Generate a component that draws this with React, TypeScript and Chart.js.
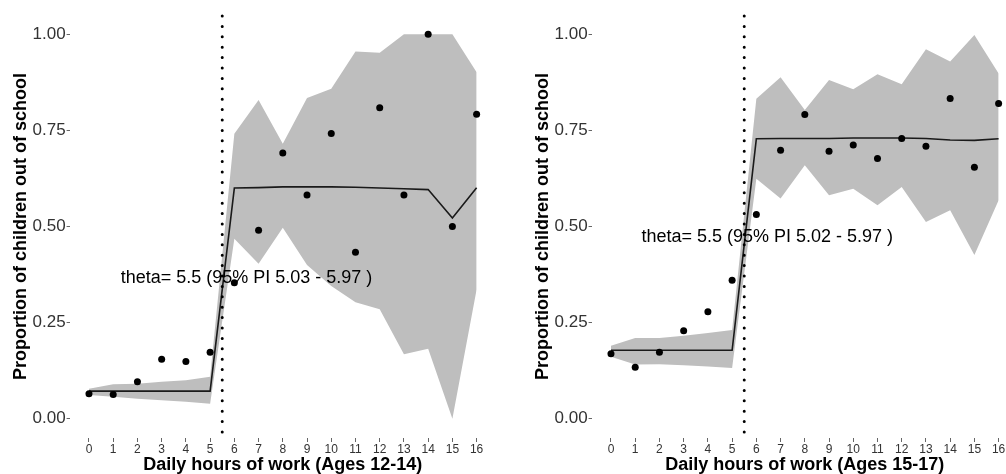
import React, { useEffect, useRef } from "react";
import { Chart, registerables } from "chart.js";

Chart.register(...registerables);

// ---------- data ----------
const hours = [0, 1, 2, 3, 4, 5, 6, 7, 8, 9, 10, 11, 12, 13, 14, 15, 16];
const xTicks = [0, 1, 2, 3, 4, 5, 6, 7, 8, 9, 10, 11, 12, 13, 14, 15, 16];
const yTicks = [0, 0.25, 0.5, 0.75, 1];

// Ages 12-14
const obsA = [0.065, 0.063, 0.096, 0.155, 0.149, 0.173, 0.354, 0.49, 0.691, 0.582, 0.742, 0.433, 0.809, 0.582, 1.0, 0.5, 0.792];
const fitA = [0.072, 0.072, 0.072, 0.072, 0.072, 0.072, 0.6, 0.601, 0.603, 0.603, 0.603, 0.602, 0.6, 0.598, 0.596, 0.522, 0.601];
const upperA = [0.078, 0.09, 0.091, 0.096, 0.1, 0.109, 0.741, 0.829, 0.715, 0.834, 0.858, 0.955, 0.952, 1.0, 1.0, 1.0, 0.901];
const lowerA = [0.062, 0.057, 0.052, 0.048, 0.044, 0.039, 0.468, 0.403, 0.497, 0.4, 0.345, 0.303, 0.285, 0.168, 0.182, 0.0, 0.336];
const thetaA = 5.5;
const labelA = "theta= 5.5 (95% PI 5.03 - 5.97 )";
const labelPosA = [6.5, 0.365];
const xTitleA = "Daily hours of work (Ages 12-14)";

// Ages 15-17
const obsB = [0.169, 0.134, 0.173, 0.229, 0.278, 0.36, 0.531, 0.698, 0.791, 0.696, 0.712, 0.677, 0.729, 0.709, 0.833, 0.654, 0.82];
const fitB = [0.178, 0.178, 0.178, 0.178, 0.178, 0.178, 0.728, 0.729, 0.729, 0.729, 0.73, 0.73, 0.73, 0.729, 0.725, 0.724, 0.728];
const upperB = [0.19, 0.21, 0.21, 0.216, 0.223, 0.231, 0.832, 0.888, 0.803, 0.881, 0.857, 0.896, 0.87, 0.961, 0.929, 0.998, 0.898];
const lowerB = [0.161, 0.141, 0.142, 0.139, 0.136, 0.132, 0.624, 0.573, 0.659, 0.581, 0.598, 0.555, 0.603, 0.512, 0.542, 0.426, 0.568];
const thetaB = 5.5;
const labelB = "theta= 5.5 (95% PI 5.02 - 5.97 )";
const labelPosB = [6.45, 0.473];
const xTitleB = "Daily hours of work (Ages 15-17)";

const yTitle = "Proportion of children out of school";

const FONT = "Arial, 'Liberation Sans', sans-serif";

type PanelProps = {
  obs: number[];
  fit: number[];
  upper: number[];
  lower: number[];
  theta: number;
  label: string;
  labelPos: number[];
  xTitle: string;
  left: number;
};

function Panel(props: PanelProps) {
  const ref = useRef<HTMLCanvasElement | null>(null);
  useEffect(() => {
    const canvas = ref.current;
    if (!canvas) return;
    const pts = (arr: number[]) => hours.map((h, i) => ({ x: h, y: arr[i] }));

    const overlay = {
      id: "overlay",
      afterDatasetsDraw(chart: any) {
        const { ctx, chartArea, scales } = chart;
        const x = scales.x.getPixelForValue(props.theta);
        ctx.save();
        ctx.strokeStyle = "#000";
        ctx.lineWidth = 3;
        ctx.lineCap = "round";
        ctx.setLineDash([0, 10.4]);
        ctx.beginPath();
        ctx.moveTo(x, chartArea.top + 1);
        ctx.lineTo(x, chartArea.bottom);
        ctx.stroke();
        ctx.restore();

        ctx.save();
        ctx.font = `18px ${FONT}`;
        ctx.fillStyle = "#000";
        ctx.textAlign = "center";
        ctx.textBaseline = "middle";
        ctx.fillText(
          props.label,
          scales.x.getPixelForValue(props.labelPos[0]),
          scales.y.getPixelForValue(props.labelPos[1])
        );
        ctx.restore();
      },
    };

    const chart = new Chart(canvas, {
      type: "line",
      data: {
        datasets: [
          {
            data: pts(props.obs),
            showLine: false,
            pointRadius: 3.5,
            pointBackgroundColor: "#000",
            pointBorderWidth: 0,
            borderColor: "#000",
          },
          {
            data: pts(props.fit),
            borderColor: "#1a1a1a",
            borderWidth: 1.6,
            pointRadius: 0,
            fill: false,
          },
          {
            data: pts(props.upper),
            borderColor: "rgba(0,0,0,0)",
            borderWidth: 0,
            pointRadius: 0,
            backgroundColor: "#bebebe",
            fill: "+1",
          },
          {
            data: pts(props.lower),
            borderColor: "rgba(0,0,0,0)",
            borderWidth: 0,
            pointRadius: 0,
            fill: false,
          },
        ],
      } as any,
      options: {
        responsive: false,
        animation: false,
        devicePixelRatio: 1,
        events: [],
        layout: { padding: { top: 15, right: 4, bottom: 0, left: 0 } },
        plugins: { legend: { display: false }, tooltip: { enabled: false } },
        scales: {
          x: {
            type: "linear",
            min: -0.8,
            max: 16.8,
            afterBuildTicks: (s: any) => {
              s.ticks = xTicks.map((v) => ({ value: v }));
            },
            afterFit: (s: any) => {
              s.height = 36;
            },
            grid: { drawOnChartArea: false, drawTicks: true, tickLength: 4, color: "#666" },
            border: { display: false },
            ticks: {
              color: "#333",
              font: { family: FONT, size: 12 },
              padding: 0,
              maxRotation: 0,
              autoSkip: false,
              callback: (v: any) => String(v),
            },
            title: {
              display: true,
              text: props.xTitle,
              color: "#000",
              font: { family: FONT, size: 18, weight: "bold" },
              padding: { top: 0, bottom: -2 },
            },
          },
          y: {
            type: "linear",
            min: -0.05,
            max: 1.05,
            afterBuildTicks: (s: any) => {
              s.ticks = yTicks.map((v) => ({ value: v }));
            },
            afterFit: (s: any) => {
              s.width = 69.6;
            },
            grid: { drawOnChartArea: false, drawTicks: true, tickLength: 3, color: "#666" },
            border: { display: false },
            ticks: {
              color: "#333",
              font: { family: FONT, size: 17 },
              padding: 1,
              callback: (v: any) => Number(v).toFixed(2),
            },
            title: {
              display: true,
              text: yTitle,
              color: "#000",
              font: { family: FONT, size: 18, weight: "bold" },
              padding: { top: 10, bottom: 0 },
            },
          },
        },
      } as any,
      plugins: [overlay],
    });
    return () => chart.destroy();
  }, []);

  return (
    <canvas
      ref={ref}
      width={500}
      height={474}
      style={{ position: "absolute", left: props.left, top: 0, width: 500, height: 474 }}
    />
  );
}

export default function App() {
  return (
    <div
      style={{
        position: "fixed",
        left: 0,
        top: 0,
        width: 1006,
        height: 474,
        overflow: "hidden",
        background: "#fff",
      }}
    >
      <Panel obs={obsA} fit={fitA} upper={upperA} lower={lowerA} theta={thetaA} label={labelA} labelPos={labelPosA} xTitle={xTitleA} left={0} />
      <Panel obs={obsB} fit={fitB} upper={upperB} lower={lowerB} theta={thetaB} label={labelB} labelPos={labelPosB} xTitle={xTitleB} left={522} />
    </div>
  );
}
